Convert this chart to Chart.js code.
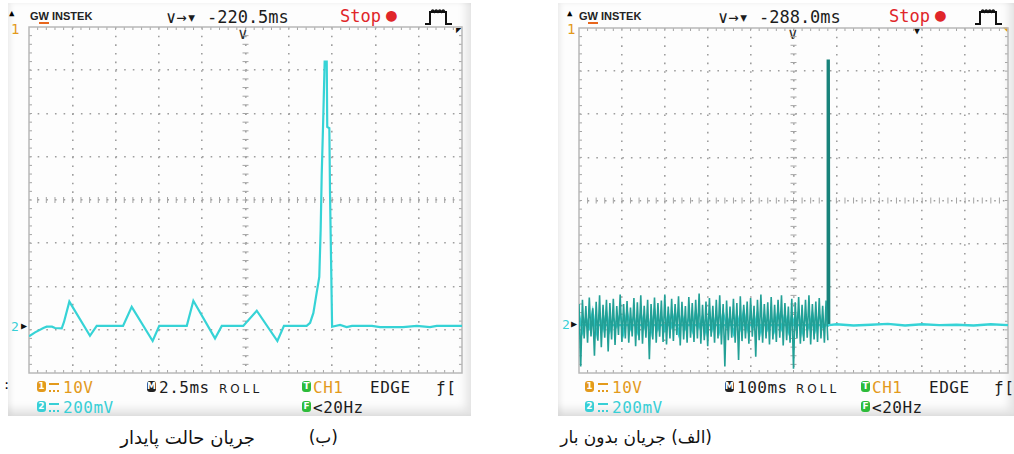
<!DOCTYPE html>
<html>
<head>
<meta charset="utf-8">
<script src="https://cdn.jsdelivr.net/npm/chart.js@4.4.1/dist/chart.umd.min.js"></script>
<style>
body { margin: 0; width: 1014px; height: 454px; background: #fff; position: relative; overflow: hidden; font-family: "DejaVu Sans Mono", monospace; }
.shot { position: absolute; background: #fdfdfd; box-shadow: inset -5px -7px 9px rgba(0,0,0,0.10), inset 3px 0 5px rgba(0,0,0,0.06); }
.t { position: absolute; white-space: nowrap; line-height: 1; }
.hd { font-size: 17px; color: #1c1c1c; }
.bt { font-size: 16px; color: #1c1c1c; letter-spacing: 0.5px; }
.or { color: #e39a1c; }
.cy { color: #38cfd6; }
.red { color: #e0262a; }
.logo { font-family: "Liberation Sans", sans-serif; font-weight: bold; font-size: 11px; color: #222; }
.logo u { text-decoration: none; border-bottom: 2px solid #e8661c; }
.ic { position: absolute; width: 9px; height: 11px; border-radius: 3px; color: #fff; font: bold 9px "DejaVu Sans", sans-serif; text-align: center; line-height: 11px; }
.dc { position: absolute; width: 10px; height: 5px; border-top: 2px solid; border-bottom: 2px dotted; }
.roll { font-family: "DejaVu Sans", sans-serif; font-size: 12px; letter-spacing: 3px; color: #1c1c1c; }
.cap { position: absolute; font-family: "DejaVu Sans", sans-serif; font-size: 17px; color: #111; direction: rtl; white-space: nowrap; }
canvas { position: absolute; }
</style>
</head>
<body>
<div class="shot" style="left:8px;top:3px;width:463px;height:413px"></div>
<div class="shot" style="left:558px;top:3px;width:456px;height:413px"></div>

<!-- left scope (b) header -->
<div class="t" style="left:9px;top:9px;font-size:9px">▲</div>
<div class="t or" style="left:11px;top:22px;font-size:14px">1</div>
<div class="t logo" style="left:30px;top:11px">G<u>W</u> INSTEK</div>
<div class="t hd" style="left:166px;top:9px">∨→▾ -220.5ms</div>
<div class="t hd red" style="left:340px;top:8px">Stop</div>
<div class="t red" style="left:386px;top:6px;font-size:18px">●</div>
<svg style="position:absolute;left:425px;top:8px" width="28" height="18"><path d="M0 16 H5 V4 H21 V16 H27" fill="none" stroke="#111" stroke-width="2"/><path d="M6 4 q1.75 -4 3.5 0 q1.75 -4 3.5 0 q1.75 -4 3.5 0 q1.75 -4 3.5 0" fill="none" stroke="#111" stroke-width="1.4"/></svg>
<div class="t" style="left:238px;top:26px;font-size:16px;color:#333">∨</div>
<div class="t" style="left:456px;top:26px;font-size:9px;color:#111">◤</div>
<div class="t cy" style="left:11px;top:320px;font-size:13px">2</div>
<div class="t" style="left:21px;top:321px;font-size:10px;color:#111">▶</div>

<!-- left scope (b) footer -->
<div class="t" style="left:3px;top:379px;font-size:12px">:</div>
<div class="ic" style="left:37px;top:381px;background:#e39a1c">1</div>
<div class="dc or" style="left:49px;top:383px"></div>
<div class="t bt or" style="left:63px;top:380px">10V</div>
<div class="ic" style="left:147px;top:381px;background:#222">M</div>
<div class="t bt" style="left:159px;top:380px">2.5ms</div>
<div class="t roll" style="left:219px;top:383px">ROLL</div>
<div class="ic" style="left:302px;top:381px;background:#2dbb3a">T</div>
<div class="t bt or" style="left:313px;top:380px">CH1</div>
<div class="t bt" style="left:370px;top:380px">EDGE</div>
<div class="t bt" style="left:436px;top:380px">ƒ[</div>
<div class="ic" style="left:37px;top:401px;background:#38cfd6">2</div>
<div class="dc cy" style="left:49px;top:403px"></div>
<div class="t bt cy" style="left:63px;top:400px">200mV</div>
<div class="ic" style="left:302px;top:401px;background:#2dbb3a">F</div>
<div class="t bt" style="left:313px;top:400px">&lt;20Hz</div>

<!-- right scope (a) header -->
<div class="t" style="left:567px;top:9px;font-size:9px">▲</div>
<div class="t or" style="left:567px;top:22px;font-size:14px">1</div>
<div class="t logo" style="left:579px;top:11px">G<u>W</u> INSTEK</div>
<div class="t hd" style="left:718px;top:9px">∨→▾ -288.0ms</div>
<div class="t hd red" style="left:889px;top:8px">Stop</div>
<div class="t red" style="left:935px;top:6px;font-size:18px">●</div>
<svg style="position:absolute;left:975px;top:8px" width="28" height="18"><path d="M0 16 H5 V4 H21 V16 H27" fill="none" stroke="#111" stroke-width="2"/><path d="M6 4 q1.75 -4 3.5 0 q1.75 -4 3.5 0 q1.75 -4 3.5 0 q1.75 -4 3.5 0" fill="none" stroke="#111" stroke-width="1.4"/></svg>
<div class="t" style="left:788px;top:26px;font-size:16px;color:#333">∨</div>
<div class="t" style="left:914px;top:26px;font-size:10px;color:#111">▼</div>
<div class="t or" style="left:1003px;top:26px;font-size:8px">◥</div>
<div class="t cy" style="left:562px;top:318px;font-size:13px">2</div>
<div class="t" style="left:571px;top:319px;font-size:10px;color:#111">▶</div>

<!-- right scope (a) footer -->
<div class="ic" style="left:585px;top:381px;background:#e39a1c">1</div>
<div class="dc or" style="left:598px;top:383px"></div>
<div class="t bt or" style="left:612px;top:380px">10V</div>
<div class="ic" style="left:725px;top:381px;background:#222">M</div>
<div class="t bt" style="left:737px;top:380px">100ms</div>
<div class="t roll" style="left:796px;top:383px">ROLL</div>
<div class="ic" style="left:861px;top:381px;background:#2dbb3a">T</div>
<div class="t bt or" style="left:872px;top:380px">CH1</div>
<div class="t bt" style="left:929px;top:380px">EDGE</div>
<div class="t bt" style="left:994px;top:380px">ƒ[</div>
<div class="ic" style="left:585px;top:401px;background:#38cfd6">2</div>
<div class="dc cy" style="left:598px;top:403px"></div>
<div class="t bt cy" style="left:612px;top:400px">200mV</div>
<div class="ic" style="left:861px;top:401px;background:#2dbb3a">F</div>
<div class="t bt" style="left:872px;top:400px">&lt;20Hz</div>

<canvas id="scope-b" width="437" height="350" style="left:27px;top:25px;width:437px;height:350px"></canvas>
<canvas id="scope-a" width="433" height="349" style="left:577px;top:26px;width:433px;height:349px"></canvas>

<div class="cap" style="right:676px;top:427px">(ب)</div>
<div class="cap" style="right:759px;top:427px;font-size:18px">جریان حالت پایدار</div>
<div class="cap" style="right:302px;top:427px">(الف) جریان بدون بار</div>

<script>
// (ب) steady state current: time in ms (2.5 ms/div), level in divisions from screen centre
const steadyTime = [0, 0.35, 0.83, 1.02, 1.33, 1.50, 1.89, 2.02, 2.33, 3.52, 3.91, 5.43, 5.93, 7.14, 7.52, 9.11, 9.49, 10.74, 11.13,
    12.37, 13.15, 14.34, 14.72, 16.03, 16.23, 16.42, 16.57, 16.76, 16.84, 16.90, 16.99, 17.07, 17.19, 17.22, 17.34, 17.38, 17.44,
    17.50, 17.96, 18.34, 18.65, 19.80, 20.27, 21.60, 22.39, 23.15, 23.54, 25];
const steadyLevel = [-3.15, -3.06, -2.96, -2.93, -2.93, -2.96, -2.97, -2.82, -2.35, -3.14, -2.91, -2.91, -2.47, -3.26, -2.91, -2.91, -2.33, -3.20, -2.91,
    -2.91, -2.56, -3.26, -2.91, -2.91, -2.84, -2.61, -2.24, -1.78, -0.69, 0.58, 1.90, 3.20, 3.20, 1.69, 1.66, 0.16, -1.39,
    -2.93, -2.89, -2.94, -2.91, -2.91, -2.94, -2.94, -2.91, -2.94, -2.91, -2.91];

// (الف) no-load current: 100 ms/div, noise samples every 4 ms before the switching spike
const noLoadStepMs = 4;
const noLoadNoise = [
    -2.40, -3.85, -2.30, -3.20, -2.45, -3.30, -2.25, -3.15, -2.50, -3.60,
    -2.35, -3.25, -2.20, -3.40, -2.42, -3.18, -2.30, -3.50, -2.38, -3.22,
    -2.28, -3.35, -2.45, -3.12, -2.18, -3.28, -2.40, -3.20, -2.33, -3.30,
    -2.48, -3.15, -2.26, -3.38, -2.36, -3.24, -2.20, -3.32, -2.44, -3.18,
    -2.30, -3.68, -2.40, -3.22, -2.25, -3.30, -2.38, -3.16, -2.32, -3.28,
    -2.18, -3.34, -2.46, -3.20, -2.28, -3.26, -2.40, -3.12, -2.22, -3.36,
    -2.35, -3.22, -2.45, -3.30, -2.24, -3.18, -2.38, -3.28, -2.30, -3.20,
    -2.16, -3.32, -2.42, -3.24, -2.34, -3.38, -2.26, -3.16, -2.44, -3.30,
    -2.30, -3.20, -2.20, -3.34, -2.40, -3.85, -2.32, -3.24, -2.46, -3.18,
    -2.28, -3.30, -2.38, -3.70, -2.22, -3.26, -2.42, -3.20, -2.34, -3.32,
    -2.26, -3.16, -2.44, -3.62, -2.30, -3.24, -2.18, -3.30, -2.40, -3.20,
    -2.36, -3.34, -2.24, -3.22, -2.42, -3.28, -2.30, -3.18, -2.20, -3.36,
    -2.38, -3.24, -2.46, -3.30, -2.28, -3.90, -2.36, -3.20, -2.24, -3.32,
    -2.42, -3.26, -2.30, -3.18, -2.20, -3.34, -2.40, -3.22, -2.34, -3.28,
    -2.26, -3.20, -2.44, -3.30, -2.32, -3.24];
const noLoadInnerStepMs = 8;
const noLoadInner = [
    -2.60, -3.05, -2.70, -2.95, -2.55, -3.10, -2.65, -2.98, -2.58, -3.02,
    -2.72, -2.92, -2.62, -3.08, -2.56, -2.96, -2.68, -3.04, -2.60, -2.94,
    -2.66, -3.06, -2.54, -2.98, -2.70, -3.00, -2.62, -2.92, -2.58, -3.08,
    -2.64, -2.96, -2.72, -3.02, -2.56, -2.94, -2.68, -3.06, -2.60, -2.98,
    -2.66, -3.04, -2.58, -2.92, -2.70, -3.08, -2.62, -2.96, -2.54, -3.00,
    -2.68, -2.94, -2.60, -3.06, -2.64, -2.98, -2.72, -3.02, -2.56, -2.96,
    -2.62, -3.04, -2.66, -2.92, -2.58, -3.08, -2.70, -2.96, -2.60, -3.00,
    -2.64, -2.94, -2.89];
const spikeTime = [579, 580, 582, 583];
const spikeLevel = [-2.89, 3.24, 3.24, -2.89];
const baseTime = [0, 580, 583, 600, 640, 680, 720, 760, 800, 840, 880, 920, 960, 1000];
const baseLevel = [-2.89, -2.89, -2.89, -2.87, -2.90, -2.88, -2.86, -2.90, -2.87, -2.89, -2.88, -2.90, -2.87, -2.89];

const CYAN = '#36d3d6';
const TEAL = '#22a096';

function pairs(xs, ys) {
    return ys.map((v, i) => ({ x: xs[i], y: v }));
}
function sampled(step, ys) {
    return ys.map((v, i) => ({ x: i * step, y: v }));
}

// scope graticule: solid frame, minor ticks on the frame and on the centre cross
const scopeFrame = {
    id: 'scopeFrame',
    beforeDatasetsDraw(chart) {
        const { ctx, chartArea: a } = chart;
        const w = a.right - a.left, h = a.bottom - a.top;
        const cx = a.left + w / 2, cy = a.top + h / 2;
        const dx = w / 50, dy = h / 40;
        ctx.save();
        ctx.strokeStyle = '#a4a4a4';
        ctx.lineWidth = 1;
        ctx.beginPath();
        for (let i = 1; i < 50; i++) {
            const px = a.left + i * dx;
            ctx.moveTo(px, a.top); ctx.lineTo(px, a.top + 3);
            ctx.moveTo(px, a.bottom); ctx.lineTo(px, a.bottom - 3);
            ctx.moveTo(px, cy - 3); ctx.lineTo(px, cy + 3);
        }
        for (let j = 1; j < 40; j++) {
            const py = a.top + j * dy;
            ctx.moveTo(a.left, py); ctx.lineTo(a.left + 3, py);
            ctx.moveTo(a.right, py); ctx.lineTo(a.right - 3, py);
            ctx.moveTo(cx - 3, py); ctx.lineTo(cx + 3, py);
        }
        ctx.stroke();
        ctx.strokeStyle = '#b8b8b8';
        ctx.lineWidth = 1.5;
        ctx.strokeRect(a.left, a.top, w, h);
        ctx.restore();
    }
};

function axis(min, max, step) {
    return {
        type: 'linear', min: min, max: max,
        ticks: { display: false, stepSize: step, autoSkip: false },
        grid: {
            drawTicks: false, lineWidth: 1.6,
            color: c => (c.tick && (c.tick.value === min || c.tick.value === max)) ? 'rgba(0,0,0,0)' : '#9e9e9e'
        },
        border: { display: false, dash: [1.6, 7.05] }
    };
}

function makeScope(id, datasets, xMax, xStep) {
    new Chart(document.getElementById(id), {
        type: 'line',
        data: { datasets: datasets },
        options: {
            responsive: false,
            animation: false,
            layout: { padding: 2 },
            plugins: { legend: { display: false }, tooltip: { enabled: false } },
            elements: { point: { radius: 0 }, line: { tension: 0 } },
            scales: { x: axis(0, xMax, xStep), y: axis(-4, 4, 1) }
        },
        plugins: [scopeFrame]
    });
}

makeScope('scope-b', [
    { data: pairs(steadyTime, steadyLevel), borderColor: CYAN, borderWidth: 2.2 }
], 25, 2.5);

makeScope('scope-a', [
    { data: sampled(noLoadStepMs, noLoadNoise), borderColor: TEAL, borderWidth: 1.6 },
    { data: sampled(noLoadInnerStepMs, noLoadInner), borderColor: CYAN, borderWidth: 1.8 },
    { data: pairs(baseTime, baseLevel), borderColor: CYAN, borderWidth: 2.4 },
    { data: pairs(spikeTime, spikeLevel), borderColor: '#18837b', borderWidth: 2.5 }
], 1000, 100);
</script>
</body>
</html>
